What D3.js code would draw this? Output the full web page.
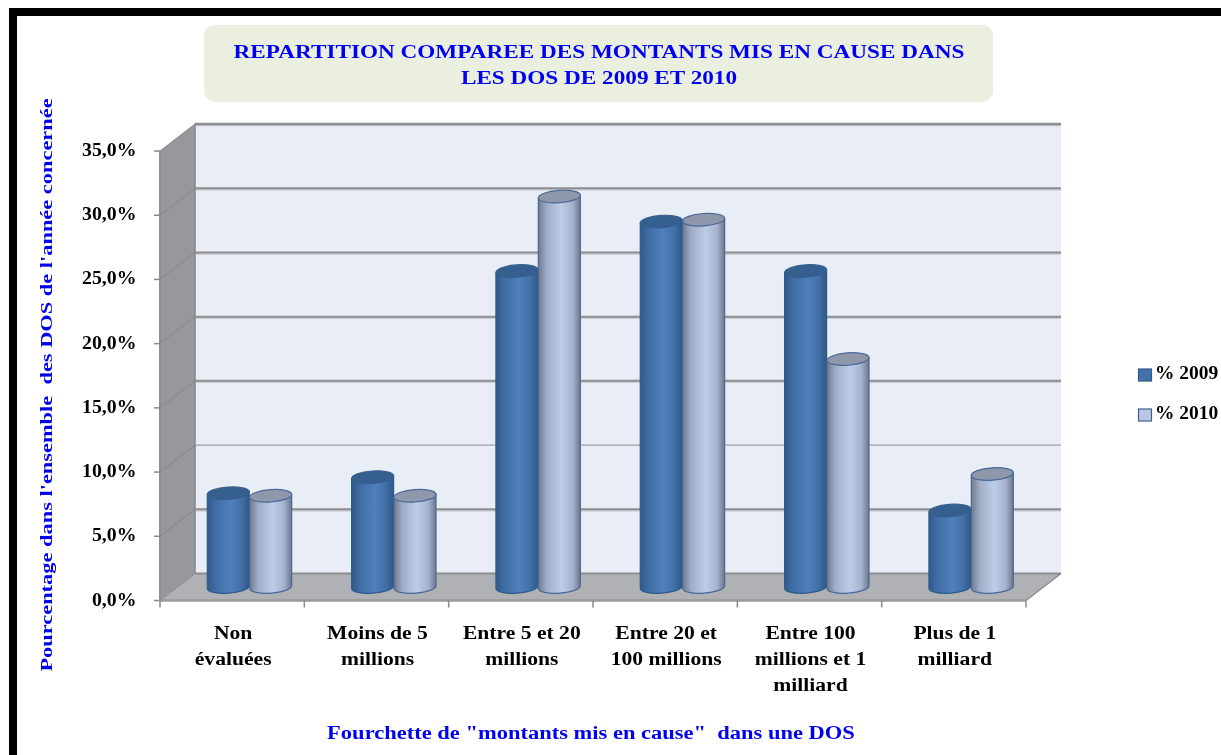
<!DOCTYPE html>
<html><head><meta charset="utf-8">
<script src="https://cdnjs.cloudflare.com/ajax/libs/d3/7.8.5/d3.min.js"></script>
<style>html,body{margin:0;padding:0;background:#fff}svg{display:block}text{font-family:"Liberation Serif",serif;font-weight:bold}</style>
</head><body><div id="c"></div>
<script>
const categories=[["Non","évaluées"],["Moins de 5","millions"],["Entre 5 et 20","millions"],["Entre 20 et","100 millions"],["Entre 100","millions et 1","milliard"],["Plus de 1","milliard"]];
const seriesNames=["% 2009","% 2010"];
const values2009=[7.3,8.55,24.6,28.45,24.6,5.95];
const values2010=[7.1,7.1,30.4,28.6,17.75,8.8];
const yTicks=[0,5,10,15,20,25,30,35];
const titleLines=["REPARTITION COMPAREE DES MONTANTS MIS EN CAUSE DANS","LES DOS DE 2009 ET 2010"];
const yTitle="Pourcentage dans l'ensemble  des DOS de l'année concernée";
const xTitle='Fourchette de "montants mis en cause"  dans une DOS';

const W=1221,H=755,dx=35,dy=27;
const svg=d3.select("#c").append("svg").attr("width",W).attr("height",H);
const x=d3.scaleBand().domain(d3.range(categories.length)).range([160,1026]);
const y=d3.scaleLinear().domain([0,35]).range([600.5,151]);
const unit=y(0)-y(1);
const defs=svg.append("defs");
function grad(id,stops){const g=defs.append("linearGradient").attr("id",id);
 stops.forEach(s=>g.append("stop").attr("offset",s[0]).attr("stop-color",s[1]));}
grad("g0",[[0,"#2f5a8a"],[.18,"#3f6ca3"],[.55,"#4f80bd"],[.82,"#416fa6"],[1,"#2f5784"]]);
grad("g1",[[0,"#6f7a8e"],[.2,"#a0adc6"],[.55,"#bccde9"],[.82,"#a5b2cc"],[1,"#6c7789"]]);
const blur=defs.append("filter").attr("id","soft").attr("x","-5%").attr("y","-5%").attr("width","110%").attr("height","110%");
blur.append("feGaussianBlur").attr("stdDeviation",.4);
function fit(sel,f){sel.each(function(){const n=this;n.setAttribute("textLength",n.getComputedTextLength()*f);n.setAttribute("lengthAdjust","spacingAndGlyphs");});return sel;}

// page frame
svg.append("rect").attr("x",9).attr("y",8).attr("width",W-9).attr("height",8).attr("fill","#000");
svg.append("rect").attr("x",9).attr("y",8).attr("width",8).attr("height",H-8).attr("fill","#000");

// title box
svg.append("rect").attr("x",204).attr("y",25).attr("width",789).attr("height",77).attr("rx",11).attr("fill","#ebefdf");
const tg=svg.append("g").attr("filter","url(#soft)");
fit(tg.selectAll(".t").data(titleLines).join("text").attr("x",599).attr("y",(d,i)=>58+i*26)
 .attr("text-anchor","middle").attr("font-size",19.5).attr("fill","#0000f0").text(d=>d),1.19);

const x0=x.range()[0],x1=x.range()[1];
// walls
const g=svg.append("g").attr("filter","url(#soft)");
g.append("rect").attr("x",x0+dx).attr("y",y(35)-dy).attr("width",x1-x0).attr("height",y(0)-y(35)).attr("fill","#e8edf6");
g.append("polygon").attr("points",[[x0,y(0)],[x0,y(35)],[x0+dx,y(35)-dy],[x0+dx,y(0)-dy]].join(" ")).attr("fill","#96989c");
g.append("polygon").attr("points",[[x0,y(0)],[x0+dx,y(0)-dy],[x1+dx,y(0)-dy],[x1,y(0)]].join(" ")).attr("fill","#b0b1b5");
// gridlines
yTicks.forEach(t=>{
 const thin=t===10;
 if(t>0&&!thin){g.append("line").attr("x1",x0+dx).attr("x2",x1+dx).attr("y1",y(t)-dy+1.5).attr("y2",y(t)-dy+1.5).attr("stroke","#c8c9cd").attr("stroke-width",1.5);}
 g.append("line").attr("x1",x0+dx).attr("x2",x1+dx).attr("y1",y(t)-dy).attr("y2",y(t)-dy).attr("stroke","#8d8e90").attr("stroke-width",t===35?2.5:(thin?1:2));
 g.append("line").attr("x1",x0).attr("x2",x0+dx).attr("y1",y(t)).attr("y2",y(t)-dy).attr("stroke","#85878a").attr("stroke-width",1);
});
g.append("line").attr("x1",x0+dx).attr("x2",x0+dx).attr("y1",y(35)-dy).attr("y2",y(0)-dy).attr("stroke","#87888a").attr("stroke-width",1.5);
g.append("line").attr("x1",x1).attr("x2",x1+dx).attr("y1",y(0)).attr("y2",y(0)-dy).attr("stroke","#8e8e8e").attr("stroke-width",1.5);
// axes
g.append("line").attr("x1",x0).attr("x2",x0).attr("y1",y(35)).attr("y2",y(0)).attr("stroke","#8e8e8e").attr("stroke-width",2);
g.append("line").attr("x1",x0).attr("x2",x1).attr("y1",y(0)).attr("y2",y(0)).attr("stroke","#9a9a9a").attr("stroke-width",2.5);
yTicks.forEach(t=>g.append("line").attr("x1",x0-6).attr("x2",x0).attr("y1",y(t)).attr("y2",y(t)).attr("stroke","#8a8a8a").attr("stroke-width",1.5));
d3.range(categories.length+1).forEach(i=>{const px=i<categories.length?x(i):x1;
 g.append("line").attr("x1",px).attr("x2",px).attr("y1",y(0)).attr("y2",y(0)+7).attr("stroke","#8a8a8a").attr("stroke-width",1.5);});

// cylinders
const rx=21,ry=6.2,cdx=17.3,cdy=13.5,tilt=-4;
function cyl(cx,v,s){
 const base=y(0)-cdy, top=base-v*unit;
 const c=g.append("g");
 const edge=s===0?"#2e5a8c":"#47699a";
 const dt=rx*Math.sin(tilt*Math.PI/180);
 c.append("path").attr("d",`M${cx-rx},${top-dt}L${cx-rx},${base-dt}A${rx},${ry} ${tilt} 0 0 ${cx+rx},${base+dt}L${cx+rx},${top+dt}Z`)
  .attr("fill",`url(#g${s})`).attr("stroke",edge).attr("stroke-width",1.2);
 c.append("ellipse").attr("cx",0).attr("cy",0).attr("rx",rx).attr("ry",ry)
  .attr("transform",`translate(${cx},${top}) rotate(${tilt})`)
  .attr("fill",s===0?"#355f8e":"#8f98aa").attr("stroke",s===0?"#355f8e":edge).attr("stroke-width",1.2);
}
[values2009,values2010].forEach((vals,s)=>vals.forEach((v,i)=>{
 cyl(x(i)+x.bandwidth()/2+cdx+(s===0?-21.2:21.2),v,s);
}));

// tick labels
const lab=svg.append("g").attr("filter","url(#soft)");
fit(lab.selectAll(".yl").data(yTicks).join("text").attr("x",136.5).attr("y",d=>y(d)+5)
 .attr("text-anchor","end").attr("font-size",18).attr("fill","#000").text(d=>d.toFixed(1).replace(".",",")+"%"),1.1);
categories.forEach((ls,i)=>ls.forEach((l,j)=>{
 fit(lab.append("text").attr("x",x(i)+x.bandwidth()/2+1).attr("y",639+j*26).attr("text-anchor","middle")
  .attr("font-size",18).attr("fill","#000").text(l),1.2);
}));
// axis titles
fit(lab.append("text").attr("transform","translate(52,385) rotate(-90)").attr("text-anchor","middle")
 .attr("font-size",17.5).attr("fill","#0000f0").style("white-space","pre").text(yTitle),1.28);
fit(lab.append("text").attr("x",591).attr("y",739).attr("text-anchor","middle")
 .attr("font-size",18).attr("fill","#0000f0").style("white-space","pre").text(xTitle),1.25);
// legend
const lg=[["#4472a8","#2f5a8c",369],["#b9c7e0","#3f6291",409]];
seriesNames.forEach((n,i)=>{
 svg.append("rect").attr("x",1138.5).attr("y",lg[i][2]).attr("width",13).attr("height",12).attr("fill",lg[i][0]).attr("stroke",lg[i][1]).attr("stroke-width",1.2);
 fit(lab.append("text").attr("x",1155).attr("y",lg[i][2]+10).attr("font-size",18).attr("fill","#000").text(n),1.08);
});
</script></body></html>
